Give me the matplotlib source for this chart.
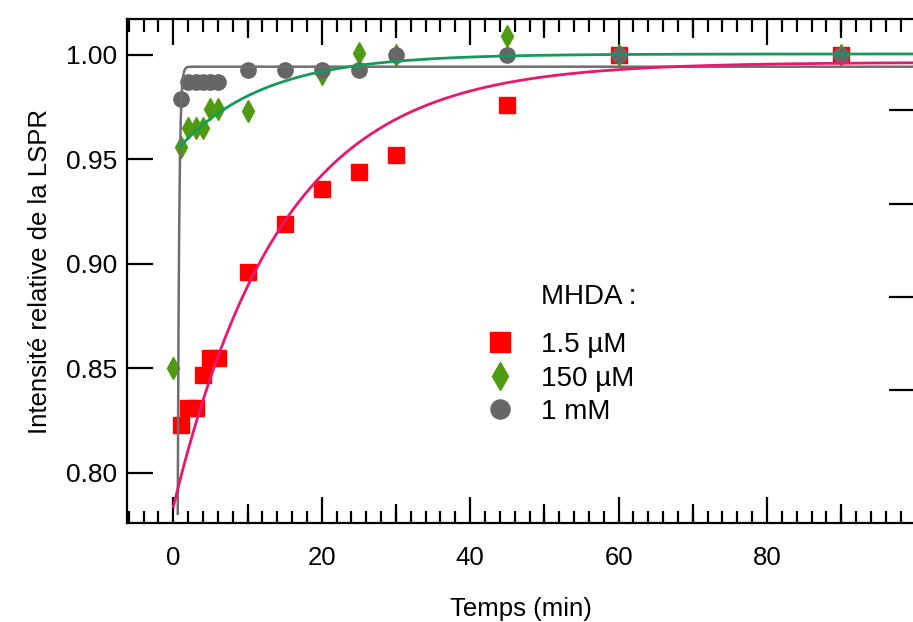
import numpy as np
import matplotlib.pyplot as plt
from matplotlib.ticker import MultipleLocator, FormatStrFormatter

plt.rcParams['font.family'] = ['Liberation Sans', 'DejaVu Sans']

# MHDA 1.5 uM
t_red = [1, 2, 3, 4, 5, 6, 10, 15, 20, 25, 30, 45, 60, 90]
y_red = [0.823, 0.831, 0.831, 0.847, 0.855, 0.855, 0.896, 0.919, 0.936, 0.944, 0.952, 0.976, 1.000, 1.000]

# MHDA 150 uM
t_green = [0, 1, 2, 3, 4, 5, 6, 10, 20, 25, 30, 45, 60, 90]
y_green = [0.850, 0.956, 0.965, 0.965, 0.965, 0.974, 0.974, 0.973, 0.991, 1.001, 1.000, 1.009, 1.000, 1.000]

# MHDA 1 mM
t_gray = [1, 2, 3, 4, 5, 6, 10, 15, 20, 25, 30, 45, 60, 90]
y_gray = [0.979, 0.987, 0.987, 0.987, 0.987, 0.987, 0.993, 0.993, 0.993, 0.993, 1.000, 1.000, 1.000, 1.000]

labels = ['1.5 µM', '150 µM', '1 mM']
x_ticks = [0, 20, 40, 60, 80]
y_ticks = [0.80, 0.85, 0.90, 0.95, 1.00]

# exponential fits: y = y_inf - A * exp(-(t - t0) / tau)
fit_red = dict(y_inf=0.9965, A=0.2128, t0=0.0, tau=14.6)
fit_green = dict(y_inf=1.0005, A=0.0440, t0=1.0, tau=11.5)
fit_gray = dict(y_inf=0.9944, A=0.2140, t0=0.6, tau=0.19)

right_ticks = [0.8396, 0.8841, 0.9286, 0.9737]


def expfit(p, t_end=100):
    t = np.linspace(p['t0'], t_end, 2000)
    return t, p['y_inf'] - p['A'] * np.exp(-(t - p['t0']) / p['tau'])


fig = plt.figure(figsize=(9.13, 6.22), dpi=100)
pos = [0.1394, 0.1587, 0.8633, 0.8103]
ax = fig.add_axes(pos)

ax.plot(t_red, y_red, 's', color='#ff0000', ms=12, mec='#ff0000', zorder=2, label=labels[0])
ax.plot(t_green, y_green, 'd', color='#4e9a10', ms=11, mec='#4e9a10', zorder=2.1, label=labels[1])
ax.plot(t_gray, y_gray, 'o', color='#666666', ms=11, mec='#666666', zorder=2.2, label=labels[2])

t, y = expfit(fit_gray)
ax.plot(t, y, color='#6e6e6e', lw=1.8, zorder=3)
t, y = expfit(fit_red)
ax.plot(t, y, color='#e8186e', lw=2.0, zorder=3.1)
t, y = expfit(fit_green)
ax.plot(t, y, color='#159a5a', lw=2.0, zorder=3.2)

xlim = (-6.2, 100)
ylim = (0.7758, 1.0171)
ax.set_xlim(*xlim)
ax.set_ylim(*ylim)

ax.set_xticks(x_ticks)
ax.xaxis.set_minor_locator(MultipleLocator(2))
ax.set_yticks(y_ticks)
ax.yaxis.set_major_formatter(FormatStrFormatter('%.2f'))

ax.tick_params(axis='x', which='major', direction='in', length=19, width=1.6,
               top=True, bottom=True, labelsize=18.5, pad=16)
ax.tick_params(axis='x', which='minor', direction='in', length=9, width=1.6,
               top=True, bottom=True)
ax.tick_params(axis='y', which='major', direction='in', length=19, width=1.6,
               left=True, right=False, labelsize=19, pad=7)
for s in ax.spines.values():
    s.set_linewidth(1.6)
ax.spines['right'].set_visible(False)

# overlay for the medium ticks every 10 and the right-hand ticks
ov = fig.add_axes(pos, frameon=False)
ov.set_xlim(*xlim)
ov.set_ylim(*ylim)
ov.set_xticks([10, 30, 50, 70, 90])
ov.set_yticks(right_ticks)
ov.tick_params(axis='x', direction='in', length=14, width=1.6, top=True, bottom=True,
               labelbottom=False, labeltop=False)
ov.tick_params(axis='y', direction='in', length=19, width=1.6, left=False, right=True,
               labelleft=False, labelright=False)
ov.patch.set_visible(False)

ax.set_xlabel('Temps (min)', fontsize=18.5, labelpad=20)
ax.set_ylabel('Intensité relative de la LSPR', fontsize=18.5, labelpad=10)

leg = ax.legend(loc='upper left', bbox_to_anchor=(0.532, 0.466), bbox_transform=fig.transFigure,
                frameon=False, fontsize=20, handlelength=1.0, handletextpad=1.0,
                labelspacing=0.27, borderpad=0, borderaxespad=0, markerscale=1.25)
fig.text(541 / 913, 1 - 297 / 622, 'MHDA :', fontsize=20, ha='left', va='center')

fig.savefig('out.png', dpi=100)
